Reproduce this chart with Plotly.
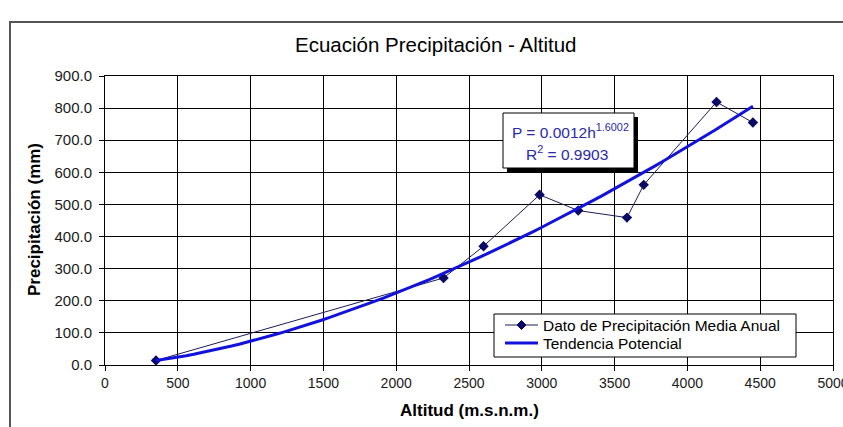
import numpy as np
import plotly.graph_objects as go

# Mean annual precipitation vs. altitude
altitud = [350, 2325, 2600, 2985, 3250, 3585, 3700, 4200, 4450]
precipitacion = [14, 271, 370, 530, 481, 459, 561, 819, 755]

# Power trend P = a * h^b (a shown rounded as 0.0012)
trend_a = 0.00117
trend_b = 1.6002
trend_r2 = 0.9903

x_ticks = list(range(0, 5001, 500))
y_ticks = list(range(0, 901, 100))

serie_nombre = "Dato de Precipitación Media Anual"
tendencia_nombre = "Tendencia Potencial"

W, H = 843, 427
L, R, T, B = 105, 10, 76, 62
PW, PH = W - L - R, H - T - B


def px(x):
    return (x - L) / PW


def py(y):
    return (H - B - y) / PH


FONT = "Liberation Sans, Arial, sans-serif"
DATA_LINE = "#1c1c5c"
DATA_MARK = "#0a0a66"
TREND = "#1212dc"

h = np.linspace(min(altitud), max(altitud), 80)
p = trend_a * h ** trend_b

fig = go.Figure()
fig.add_trace(go.Scatter(
    x=altitud, y=precipitacion, mode="lines+markers", name=serie_nombre,
    line=dict(color=DATA_LINE, width=1),
    marker=dict(symbol="diamond", size=8, color=DATA_MARK),
))
fig.add_trace(go.Scatter(
    x=h, y=p, mode="lines", name=tendencia_nombre,
    line=dict(color=TREND, width=3),
))

axis_common = dict(
    showline=True, linecolor="black", linewidth=1, mirror=True,
    showgrid=True, gridcolor="black", gridwidth=1, zeroline=False,
    ticks="outside", ticklen=5, tickcolor="black", tickwidth=1,
    ticklabeloverflow="allow", automargin=False,
)

fig.update_xaxes(range=[0, 5000], tickvals=x_ticks,
                 tickfont=dict(family=FONT, size=14, color="#1a1a1a"),
                 **axis_common)
fig.update_yaxes(range=[0, 900], tickvals=y_ticks,
                 ticktext=[f"{v:.1f}" for v in y_ticks],
                 ticklabelstandoff=4,
                 tickfont=dict(family=FONT, size=15, color="#1a1a1a"),
                 **axis_common)


def box(x0, x1, y0, y1, **kw):
    return dict(type="rect", xref="paper", yref="paper",
                x0=px(x0), x1=px(x1), y0=py(y1), y1=py(y0), **kw)


def hline(x0, x1, y, color, width):
    return dict(type="line", xref="paper", yref="paper",
                x0=px(x0), x1=px(x1), y0=py(y), y1=py(y),
                line=dict(color=color, width=width), layer="above")


shapes = [
    # outer chart frame
    box(10, 880, 22, 470, line=dict(color="#555555", width=2),
        fillcolor="rgba(0,0,0,0)", layer="below"),
    # equation box with drop shadow
    box(507, 638, 117, 172, line=dict(width=0), fillcolor="black", layer="above"),
    box(503, 634, 113, 168, line=dict(color="black", width=1),
        fillcolor="white", layer="above"),
    # legend
    box(494, 796, 314, 357, line=dict(color="black", width=1),
        fillcolor="white", layer="above"),
    hline(505, 538, 325, DATA_LINE, 1),
    hline(505, 538, 343, TREND, 3),
    dict(type="path", xref="paper", yref="paper",
         xsizemode="pixel", ysizemode="pixel",
         xanchor=px(521.5), yanchor=py(325),
         path="M 0,4.5 L 4.5,0 L 0,-4.5 L -4.5,0 Z",
         fillcolor=DATA_MARK, line=dict(color=DATA_MARK, width=1),
         layer="above"),
]


def label(text, x, y, size, color="black", xanchor="center", **kw):
    return dict(text=text, x=px(x), y=py(y), xref="paper", yref="paper",
                showarrow=False, xanchor=xanchor, yanchor="middle",
                font=dict(family=FONT, size=size, color=color), **kw)


eq_color = "#2a2aa8"
annotations = [
    label("Ecuación Precipitación - Altitud", 435, 45, 20.5),
    label("<b>Precipitación (mm)</b>", 34, 220, 17, textangle=-90),
    label("<b>Altitud (m.s.n.m.)</b>", 469, 410, 17),
    label(f"P = {trend_a:.4f}h<sup>{trend_b:.4f}</sup>", 570, 131, 15.5, eq_color),
    label(f"R<sup>2</sup> = {trend_r2:.4f}", 567, 153, 15.5, eq_color),
    label(serie_nombre, 541, 325, 15.5, xanchor="left"),
    label(tendencia_nombre, 541, 343, 15.5, xanchor="left"),
]

fig.update_layout(
    width=W, height=H,
    margin=dict(l=L, r=R, t=T, b=B),
    paper_bgcolor="white", plot_bgcolor="white",
    showlegend=False,
    shapes=shapes, annotations=annotations,
)

fig.write_html("out.html")
